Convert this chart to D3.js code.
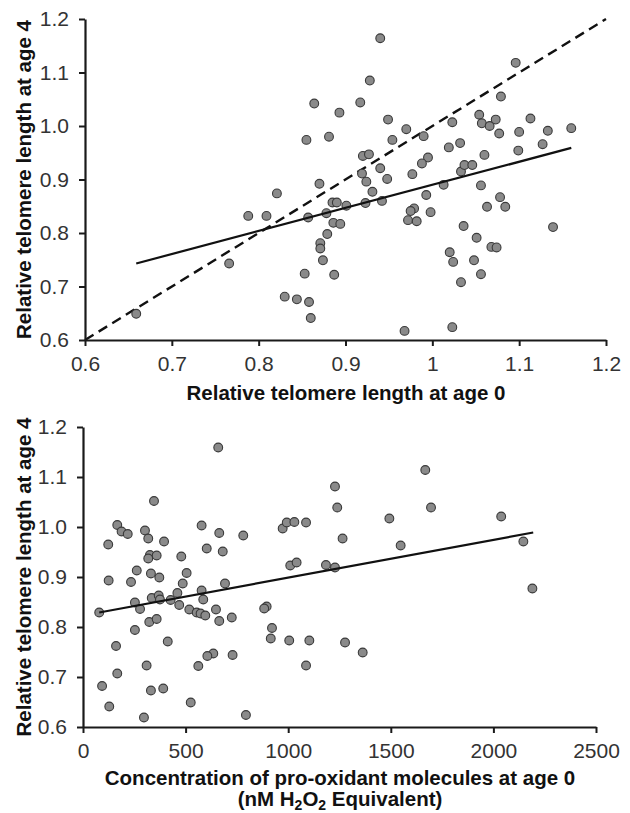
<!DOCTYPE html>
<html>
<head>
<meta charset="utf-8">
<script src="https://cdn.jsdelivr.net/npm/d3@7"></script>
<style>
  html, body { margin: 0; padding: 0; background: #fff; }
  svg { display: block; }
  text { font-family: "Liberation Sans", Arial, sans-serif; }
</style>
</head>
<body>
<svg id="chart" width="630" height="813"></svg>
<script>
// ---------- Data (top panel): telomere length at age 0 vs age 4 ----------
const telomereAge0 = [0.940,0.928,1.096,0.864,0.917,0.893,1.079,0.949,0.970,1.023,1.054,1.057,1.066,1.073,1.113,1.160,1.133,1.100,1.077,0.855,0.881,0.954,0.990,1.019,1.032,1.127,1.099,1.060,0.995,0.988,0.920,0.927,0.940,0.948,0.919,0.924,0.931,0.977,1.033,1.037,1.046,1.013,1.056,0.993,1.078,0.870,0.821,0.788,0.809,0.857,0.878,0.885,0.890,0.901,0.923,0.942,0.979,0.975,0.972,0.982,0.998,0.886,0.894,0.879,0.871,1.063,1.084,1.036,1.139,1.051,1.068,1.074,0.871,1.020,1.024,1.048,0.874,0.853,0.887,1.056,1.033,0.844,0.858,0.860,0.968,1.023,0.766,0.830,0.659];
const telomereAge4Top = [1.164,1.085,1.118,1.042,1.044,1.025,1.055,1.012,0.994,1.007,1.021,1.005,1.000,1.012,1.014,0.996,0.991,0.989,0.986,0.974,0.980,0.974,0.981,0.960,0.968,0.966,0.954,0.946,0.941,0.930,0.944,0.947,0.921,0.901,0.911,0.896,0.877,0.910,0.915,0.927,0.927,0.890,0.889,0.871,0.867,0.892,0.874,0.832,0.832,0.829,0.837,0.857,0.857,0.851,0.856,0.860,0.846,0.841,0.824,0.822,0.839,0.819,0.817,0.798,0.781,0.849,0.849,0.813,0.811,0.791,0.774,0.773,0.771,0.764,0.746,0.749,0.749,0.724,0.722,0.723,0.708,0.676,0.671,0.641,0.617,0.624,0.743,0.681,0.649];
const topFitX = [0.659, 1.160];
const topFitY = [0.743, 0.959];
const identityLine = [0.6, 1.2];
const topXTicks = [0.6, 0.7, 0.8, 0.9, 1.0, 1.1, 1.2];
const topXTickLabels = ["0.6", "0.7", "0.8", "0.9", "1", "1.1", "1.2"];
const yTicks = [0.6, 0.7, 0.8, 0.9, 1.0, 1.1, 1.2];
const yTickLabels = ["0.6", "0.7", "0.8", "0.9", "1.0", "1.1", "1.2"];

// ---------- Data (bottom panel): pro-oxidant concentration vs telomere length at age 4 ----------
const proOxidant = [346,167,188,218,123,302,318,395,578,664,781,603,681,326,359,318,479,973,993,1010,262,331,372,505,125,234,486,692,253,278,335,369,375,427,460,469,578,586,518,554,573,596,648,725,664,895,883,79,323,359,253,921,161,915,1005,1103,413,635,606,729,310,562,1087,167,93,331,391,128,525,297,794,659,1030,1087,1041,1668,1228,1239,1696,1493,2038,1265,1548,1184,1228,2146,2190,1277,1363];
const telomereAge4Bottom = [1.052,1.004,0.991,0.986,0.965,0.993,0.977,0.971,1.003,0.988,0.983,0.957,0.951,0.944,0.943,0.937,0.941,0.997,1.009,0.923,0.913,0.907,0.899,0.908,0.893,0.890,0.887,0.887,0.849,0.836,0.858,0.863,0.855,0.854,0.868,0.844,0.873,0.855,0.835,0.829,0.827,0.823,0.835,0.819,0.812,0.841,0.837,0.829,0.810,0.816,0.794,0.798,0.762,0.777,0.773,0.773,0.771,0.747,0.742,0.744,0.723,0.722,0.723,0.707,0.682,0.673,0.677,0.641,0.649,0.619,0.624,1.159,1.010,1.009,0.929,1.114,1.081,1.039,1.039,1.017,1.021,0.977,0.963,0.924,0.919,0.971,0.877,0.769,0.749];
const bottomFitX = [79, 2194];
const bottomFitY = [0.829, 0.989];
const bottomXTicks = [0, 500, 1000, 1500, 2000, 2500];
const bottomXTickLabels = ["0", "500", "1000", "1500", "2000", "2500"];

// ---------- Drawing ----------
const svg = d3.select("#chart");
const AXIS_COLOR = "#1a1a1a";
const TICK_TEXT = "#333";

function panel(cfg) {
  const x = d3.scaleLinear().domain(cfg.xDomain).range([cfg.left, cfg.right]);
  const y = d3.scaleLinear().domain([0.6, 1.2]).range([cfg.bottom, cfg.top]);
  const g = svg.append("g");

  if (cfg.dashed) {
    g.append("line")
      .attr("x1", x(cfg.dashed[0])).attr("y1", y(cfg.dashed[0]))
      .attr("x2", x(cfg.dashed[1])).attr("y2", y(cfg.dashed[1]))
      .attr("stroke", "#111").attr("stroke-width", 2.4)
      .attr("stroke-dasharray", "10,6");
  }

  g.append("g").selectAll("circle")
    .data(cfg.xs.map((v, i) => [v, cfg.ys[i]]))
    .join("circle")
    .attr("cx", d => x(d[0])).attr("cy", d => y(d[1]))
    .attr("r", 4.4)
    .attr("fill", "#8a8a8a")
    .attr("stroke", "#3a3a3a")
    .attr("stroke-width", 1.1);

  g.append("line")
    .attr("x1", x(cfg.fitX[0])).attr("y1", y(cfg.fitY[0]))
    .attr("x2", x(cfg.fitX[1])).attr("y2", y(cfg.fitY[1]))
    .attr("stroke", "#111").attr("stroke-width", 2.2);

  const xAxis = d3.axisBottom(x).tickValues(cfg.xTicks)
    .tickFormat((d, i) => cfg.xTickLabels[i]).tickSize(6).tickSizeOuter(0).tickPadding(10);
  const yAxis = d3.axisLeft(y).tickValues(yTicks)
    .tickFormat((d, i) => yTickLabels[i]).tickSize(6).tickSizeOuter(0).tickPadding(10);

  const gx = g.append("g").attr("transform", `translate(0,${cfg.bottom})`).call(xAxis);
  const gy = g.append("g").attr("transform", `translate(${cfg.left},0)`).call(yAxis);
  [gx, gy].forEach(a => {
    a.select(".domain").attr("stroke", AXIS_COLOR).attr("stroke-width", 2.2);
    a.selectAll(".tick line").attr("stroke", AXIS_COLOR).attr("stroke-width", 2);
    a.selectAll(".tick text").attr("fill", TICK_TEXT)
      .style("font-size", "21px").style("font-family", '"Liberation Sans", Arial, sans-serif');
  });

  g.append("text")
    .attr("transform", `translate(26,${(cfg.top + cfg.bottom) / 2}) rotate(-90)`)
    .attr("text-anchor", "middle").attr("dominant-baseline", "middle")
    .attr("font-weight", "bold").attr("font-size", "20.5px").attr("fill", "#111")
    .text("Relative telomere length at age 4");

  return { x, y, g };
}

const topPanel = panel({
  left: 85, right: 606, top: 19, bottom: 340,
  xDomain: [0.6, 1.2], xs: telomereAge0, ys: telomereAge4Top,
  fitX: topFitX, fitY: topFitY, dashed: identityLine,
  xTicks: topXTicks, xTickLabels: topXTickLabels
});
topPanel.g.append("text")
  .attr("x", 346).attr("y", 400)
  .attr("text-anchor", "middle")
  .attr("font-weight", "bold").attr("font-size", "20.5px").attr("fill", "#111")
  .text("Relative telomere length at age 0");

const bottomPanel = panel({
  left: 83, right: 596, top: 427, bottom: 727,
  xDomain: [0, 2500], xs: proOxidant, ys: telomereAge4Bottom,
  fitX: bottomFitX, fitY: bottomFitY, dashed: null,
  xTicks: bottomXTicks, xTickLabels: bottomXTickLabels
});
bottomPanel.g.append("text")
  .attr("x", 340).attr("y", 785)
  .attr("text-anchor", "middle")
  .attr("font-weight", "bold").attr("font-size", "20.5px").attr("fill", "#111")
  .text("Concentration of pro-oxidant molecules at age 0");
const sub = bottomPanel.g.append("text")
  .attr("x", 340).attr("y", 806)
  .attr("text-anchor", "middle")
  .attr("font-weight", "bold").attr("font-size", "20.5px").attr("fill", "#111");
sub.append("tspan").text("(nM H");
sub.append("tspan").attr("font-size", "14px").attr("dy", 4).text("2");
sub.append("tspan").attr("dy", -4).text("O");
sub.append("tspan").attr("font-size", "14px").attr("dy", 4).text("2");
sub.append("tspan").attr("dy", -4).text(" Equivalent)");
</script>
</body>
</html>
